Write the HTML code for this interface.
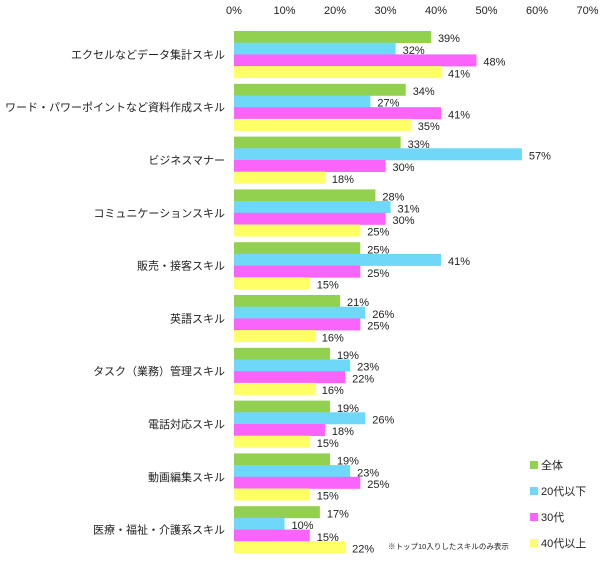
<!DOCTYPE html>
<html><head><meta charset="utf-8"><style>
body{margin:0;background:#fff;width:605px;height:560px;overflow:hidden;font-family:"Liberation Sans","Noto Sans CJK JP",sans-serif;}
svg text{font-family:"Liberation Sans","Noto Sans CJK JP",sans-serif;fill:#222;}
</style></head><body>
<svg id="chart" width="605" height="560"></svg>
<script>
const categories=["エクセルなどデータ集計スキル","ワード・パワーポイントなど資料作成スキル","ビジネスマナー","コミュニケーションスキル","販売・接客スキル","英語スキル","タスク（業務）管理スキル","電話対応スキル","動画編集スキル","医療・福祉・介護系スキル"];
const seriesNames=["全体","20代以下","30代","40代以上"];
const all=[39,34,33,28,25,21,19,19,19,17];
const under20s=[32,27,57,31,41,26,23,26,23,10];
const thirties=[48,41,30,30,25,25,22,18,25,15];
const forties=[41,35,18,25,15,16,16,15,15,22];
const ticks=[0,10,20,30,40,50,60,70];
const series=[all,under20s,thirties,forties];
const colors=["#92d050","#6fd7f7","#fa64fa","#ffff66"];
const svg=document.getElementById('chart');
const NS="http://www.w3.org/2000/svg";
const x0=234,pxPer=5.05,g0=31,gp=52.8,bh=11.7;
const xs=v=>x0+v*pxPer;
function mk(t,a){const e=document.createElementNS(NS,t);for(const k in a)e.setAttribute(k,a[k]);svg.appendChild(e);return e;}
ticks.forEach((t,i)=>{const e=mk('text',{x:xs(t),y:14,'font-size':11,'text-anchor':'middle'});e.textContent=t+'%';

});
categories.forEach((c,i)=>{const gy=g0+i*gp;
const l=mk('text',{x:225,y:gy+bh*2+4,'font-size':11,'text-anchor':'end'});l.textContent=c;


series.forEach((s,j)=>{const y=gy+j*bh;
const r=mk('rect',{x:x0,y:y,width:s[i]*pxPer,height:bh+0.3,fill:colors[j]});


const t=mk('text',{x:xs(s[i])+7,y:y+bh-0.5,'font-size':11});t.textContent=s[i]+'%';

});});
const ly=[465,491,517,543];
seriesNames.forEach((n,j)=>{const r=mk('rect',{x:530,y:ly[j]-4,width:8,height:8,fill:colors[j]});


const t=mk('text',{x:541,y:ly[j]+4,'font-size':11});t.textContent=n;

});
const note=mk('text',{x:388,y:549,'font-size':7.5,fill:'#444'});note.textContent='※トップ10入りしたスキルのみ表示';


</script>
</body></html>
